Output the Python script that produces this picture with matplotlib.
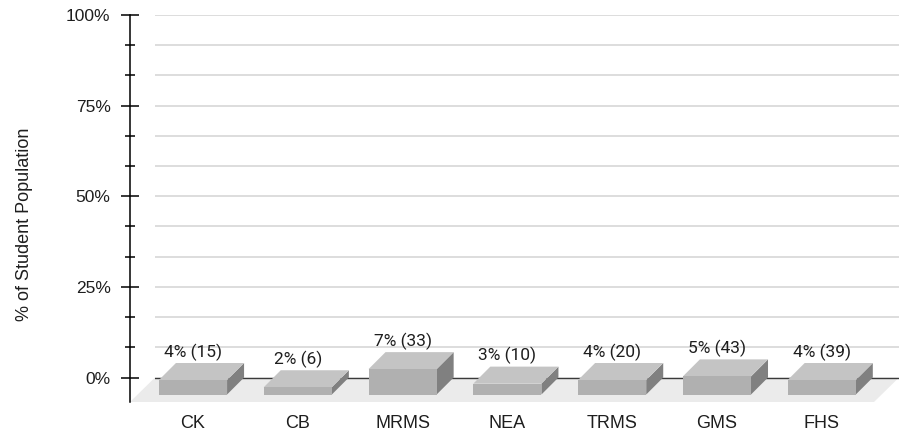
import numpy as np
import matplotlib
matplotlib.use("Agg")
import matplotlib.pyplot as plt
from matplotlib.patches import Polygon
from matplotlib.ticker import FixedLocator, FuncFormatter

plt.rcParams['font.family'] = ['Liberation Sans', 'DejaVu Sans']

schools = ['CK', 'CB', 'MRMS', 'NEA', 'TRMS', 'GMS', 'FHS']
pct = [4, 2, 7, 3, 4, 5, 4]
counts = [15, 6, 33, 10, 20, 43, 39]

DPI = 100
W, H = 906, 434

# pseudo-3d geometry, in pixels
FLOOR_DEPTH = (25, 24.5)
BAR_DEPTH = (17, 17)
PX_PER_PCT = 3.625
BAR_W = 0.65

fig = plt.figure(figsize=(W / DPI, H / DPI), dpi=DPI)
floor_pct = FLOOR_DEPTH[1] / PX_PER_PCT
ax = fig.add_axes([155 / W, (H - 402) / H, 744 / W, (402 - 15) / H])
ax.set_xlim(-0.525, 6.575)
ax.set_ylim(-floor_pct, 100)


def shift(x, y, dx, dy):
    # move a data point by (dx, dy) screen pixels toward the viewer
    d = ax.transData.transform((x, y)) + np.array([-dx, -dy])
    return ax.transData.inverted().transform(d)


x0, x1 = ax.get_xlim()

# floor
floor = [(x0, 0), (x1, 0), shift(x1, 0, *FLOOR_DEPTH), shift(x0, 0, *FLOOR_DEPTH)]
ax.add_patch(Polygon(floor, closed=True, fc='#ebebeb', ec='none', zorder=1, clip_on=False))

# back wall gridlines
for g in np.arange(1, 13) * 25 / 3:
    ax.axhline(g, color='#dadada', lw=1.3, zorder=1)
ax.axhline(0, color='#3a3a3a', lw=1.0, zorder=2)

# bars
for i, v in enumerate(pct):
    l, r = i - BAR_W / 2, i + BAR_W / 2
    bl, br, tl, tr = (l, 0), (r, 0), (l, v), (r, v)
    fbl, fbr = shift(*bl, *BAR_DEPTH), shift(*br, *BAR_DEPTH)
    ftl, ftr = shift(*tl, *BAR_DEPTH), shift(*tr, *BAR_DEPTH)
    ax.add_patch(Polygon([fbr, br, tr, ftr], fc='#808080', ec='none', zorder=3, clip_on=False))
    ax.add_patch(Polygon([tl, tr, ftr, ftl], fc='#c4c4c4', ec='none', zorder=3, clip_on=False))
    ax.add_patch(Polygon([fbl, fbr, ftr, ftl], fc='#b0b0b0', ec='none', zorder=4, clip_on=False))
    ax.annotate(f'{v}% ({counts[i]})', (i, v), xytext=(-BAR_DEPTH[0] * 0.72, 6 * 0.72),
                textcoords='offset points', ha='center', va='baseline',
                fontsize=12.5, color='#1e1e1e', family=['Roboto', 'DejaVu Sans'], zorder=5)

# category labels under the front faces
label_x = [shift(i, 0, *BAR_DEPTH)[0] for i in range(len(schools))]
ax.set_xticks(label_x)
ax.set_xticklabels(schools, fontsize=13, color='#1e1e1e')
ax.tick_params(axis='x', length=0, pad=9)

# y axis
for s in ['top', 'right', 'bottom']:
    ax.spines[s].set_visible(False)
ax.spines['left'].set_position(('outward', FLOOR_DEPTH[0] * 0.72))
ax.spines['left'].set_linewidth(1.1)
ax.yaxis.set_major_locator(FixedLocator([0, 25, 50, 75, 100]))
ax.yaxis.set_minor_locator(FixedLocator([g for g in np.arange(1, 12) * 25 / 3 if g % 25]))
ax.yaxis.set_major_formatter(FuncFormatter(lambda v, p: f'{v:.0f}%'))
ax.tick_params(axis='y', which='major', direction='inout', length=13, width=1.1,
               labelsize=12.5, labelcolor='#1e1e1e', pad=7.5)
ax.tick_params(axis='y', which='minor', direction='inout', length=7, width=1.1)

fig.text(25 / W, 1 - 224 / H, '% of Student Population', rotation=90,
         ha='center', va='center', fontsize=13, color='#1e1e1e')

fig.savefig('out.png', dpi=DPI)
